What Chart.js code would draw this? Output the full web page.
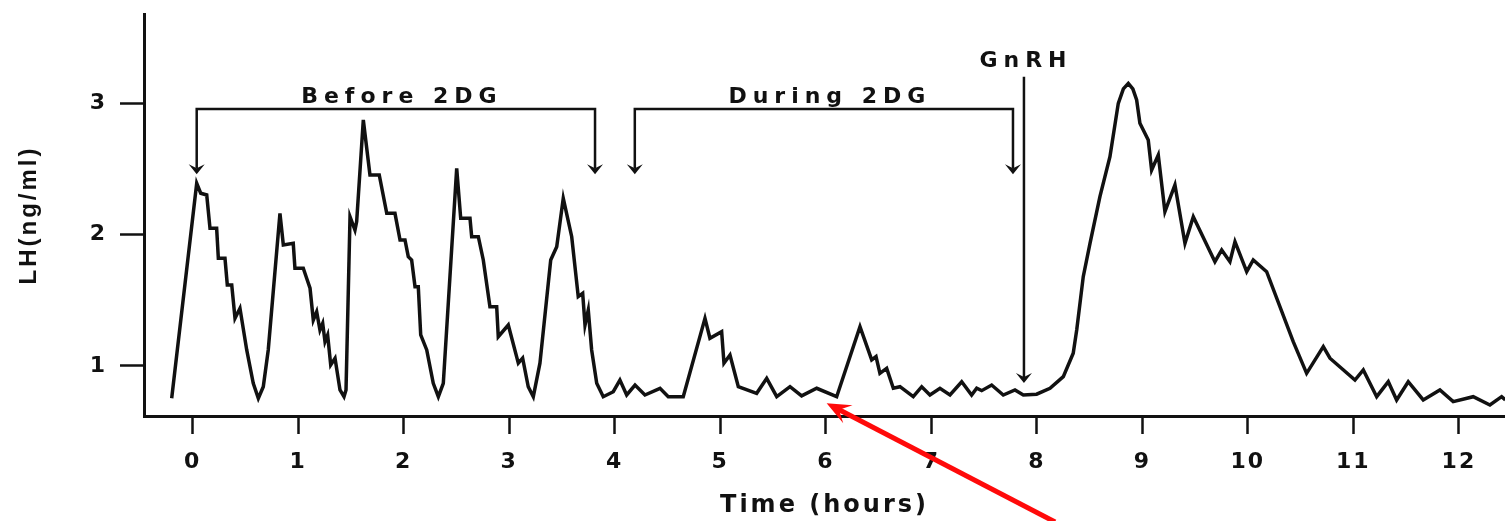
<!DOCTYPE html>
<html>
<head>
<meta charset="utf-8">
<script src="https://cdn.jsdelivr.net/npm/chart.js@4.4.1/dist/chart.umd.min.js"></script>
<style>
  html, body { margin: 0; padding: 0; background: #fff; }
  #wrap { width: 1505px; height: 521px; }
</style>
</head>
<body>
<div id="wrap"><canvas id="lhChart"></canvas></div>
<script>
// LH samples: time (hours) and LH (ng/ml)
const hours = [
  -0.199, 0.038, 0.076, 0.133, 0.164, 0.227, 0.243, 0.306, 0.328, 0.370,
  0.401, 0.448, 0.512, 0.574, 0.622, 0.669, 0.716, 0.827, 0.859, 0.953,
  0.969, 1.048, 1.080, 1.112, 1.143, 1.175, 1.206, 1.232, 1.254, 1.279,
  1.308, 1.349, 1.396, 1.434, 1.453, 1.491, 1.538, 1.554, 1.617, 1.680,
  1.768, 1.839, 1.917, 1.965, 2.012, 2.043, 2.075, 2.107, 2.138, 2.161,
  2.218, 2.280, 2.328, 2.375, 2.502, 2.540, 2.628, 2.644, 2.707, 2.754,
  2.817, 2.881, 2.896, 2.991, 3.086, 3.127, 3.180, 3.228, 3.291, 3.393,
  3.450, 3.512, 3.592, 3.654, 3.696, 3.718, 3.749, 3.781, 3.829, 3.891,
  3.986, 4.049, 4.113, 4.192, 4.286, 4.429, 4.507, 4.649, 4.855, 4.902,
  5.013, 5.035, 5.092, 5.171, 5.345, 5.440, 5.535, 5.661, 5.771, 5.914,
  6.103, 6.324, 6.435, 6.476, 6.513, 6.577, 6.640, 6.703, 6.829, 6.909,
  6.987, 7.082, 7.177, 7.288, 7.382, 7.430, 7.477, 7.572, 7.682, 7.793,
  7.872, 7.998, 8.125, 8.251, 8.345, 8.378, 8.440, 8.504, 8.598, 8.693,
  8.772, 8.820, 8.867, 8.910, 8.946, 8.977, 9.056, 9.088, 9.151, 9.214,
  9.309, 9.404, 9.483, 9.688, 9.752, 9.830, 9.878, 9.989, 10.051, 10.178,
  10.430, 10.557, 10.715, 10.778, 11.015, 11.094, 11.221, 11.331, 11.410, 11.520,
  11.662, 11.820, 11.946, 12.136, 12.294, 12.405, 12.440
];
const lh = [
  0.754, 2.391, 2.315, 2.302, 2.048, 2.048, 1.820, 1.820, 1.617, 1.617,
  1.363, 1.439, 1.122, 0.868, 0.754, 0.842, 1.122, 2.162, 1.921, 1.934,
  1.744, 1.744, 1.668, 1.592, 1.350, 1.413, 1.274, 1.325, 1.185, 1.236,
  1.008, 1.059, 0.817, 0.766, 0.817, 2.137, 2.035, 2.099, 2.873, 2.454,
  2.454, 2.162, 2.162, 1.959, 1.959, 1.832, 1.807, 1.604, 1.604, 1.236,
  1.122, 0.868, 0.766, 0.868, 2.505, 2.124, 2.124, 1.984, 1.984, 1.807,
  1.451, 1.451, 1.223, 1.312, 1.021, 1.059, 0.842, 0.766, 1.021, 1.807,
  1.908, 2.277, 1.984, 1.528, 1.553, 1.312, 1.426, 1.122, 0.868, 0.766,
  0.804, 0.893, 0.779, 0.855, 0.779, 0.830, 0.766, 0.766, 1.363, 1.211,
  1.261, 1.021, 1.084, 0.842, 0.792, 0.906, 0.766, 0.842, 0.772, 0.830,
  0.766, 1.299, 1.046, 1.071, 0.944, 0.982, 0.830, 0.842, 0.766, 0.842,
  0.779, 0.830, 0.779, 0.880, 0.779, 0.830, 0.812, 0.855, 0.779, 0.817,
  0.779, 0.785, 0.830, 0.919, 1.097, 1.274, 1.680, 1.934, 2.289, 2.593,
  3.000, 3.110, 3.152, 3.110, 3.025, 2.848, 2.721, 2.492, 2.606, 2.175,
  2.378, 1.934, 2.137, 1.794, 1.883, 1.794, 1.946, 1.718, 1.807, 1.718,
  1.185, 0.944, 1.147, 1.059, 0.893, 0.970, 0.766, 0.880, 0.741, 0.880,
  0.741, 0.817, 0.728, 0.766, 0.703, 0.766, 0.741
];

const xTickValues = [0, 1, 2, 3, 4, 5, 6, 7, 8, 9, 10, 11, 12];
const yTickValues = [1, 2, 3];

// period brackets (hours) and GnRH marker
const bracketLabels = ['Before 2DG', 'During 2DG'];
const bracketStart = [0.038, 4.19];
const bracketEnd = [3.813, 7.774];
const bracketLevel = 2.957;
const bracketTip = 2.46;
const bracketLabelLevel = 3.0;
const gnrhTime = 7.878;
const gnrhTop = 3.203;
const gnrhTip = 0.87;
const gnrhLabelLevel = 3.279;
// red pointer (time, LH)
const pointerTail = [8.173, -0.188];
const pointerHead = [6.008, 0.716];

const ink = '#111';

function arrowDown(ctx, x, y) {
  ctx.beginPath();
  ctx.moveTo(x, y);
  ctx.lineTo(x - 8, y - 10);
  ctx.lineTo(x, y - 6);
  ctx.lineTo(x + 8, y - 10);
  ctx.closePath();
  ctx.fill();
}

const annotate = {
  id: 'annotate',
  beforeDraw(chart) {
    chart.ctx.letterSpacing = '3px';
  },
  afterDatasetsDraw(chart) {
    const { ctx, scales: { x, y } } = chart;
    ctx.save();
    ctx.letterSpacing = '6px';
    ctx.strokeStyle = ink;
    ctx.fillStyle = ink;
    ctx.lineWidth = 2.5;
    ctx.font = 'bold 22px "DejaVu Sans"';
    ctx.textAlign = 'center';
    ctx.textBaseline = 'alphabetic';

    const yl = y.getPixelForValue(bracketLevel);
    const yt = y.getPixelForValue(bracketTip);
    bracketLabels.forEach((label, i) => {
      const x0 = x.getPixelForValue(bracketStart[i]);
      const x1 = x.getPixelForValue(bracketEnd[i]);
      ctx.beginPath();
      ctx.moveTo(x0, yt - 6);
      ctx.lineTo(x0, yl);
      ctx.lineTo(x1, yl);
      ctx.lineTo(x1, yt - 6);
      ctx.stroke();
      arrowDown(ctx, x0, yt);
      arrowDown(ctx, x1, yt);
      ctx.fillText(label, (x0 + x1) / 2 + 6, y.getPixelForValue(bracketLabelLevel));
    });

    const gx = x.getPixelForValue(gnrhTime);
    const gTip = y.getPixelForValue(gnrhTip);
    ctx.beginPath();
    ctx.moveTo(gx, y.getPixelForValue(gnrhTop));
    ctx.lineTo(gx, gTip - 6);
    ctx.stroke();
    arrowDown(ctx, gx, gTip);
    ctx.fillText('GnRH', gx + 2, y.getPixelForValue(gnrhLabelLevel));
    ctx.restore();
    ctx.letterSpacing = '2px';
  },
  afterDraw(chart) {
    const { ctx, scales: { x, y } } = chart;
    const tx = x.getPixelForValue(pointerTail[0]);
    const ty = y.getPixelForValue(pointerTail[1]);
    const hx = x.getPixelForValue(pointerHead[0]);
    const hy = y.getPixelForValue(pointerHead[1]);
    const a = Math.atan2(hy - ty, hx - tx);
    ctx.save();
    ctx.strokeStyle = '#ff0a0a';
    ctx.fillStyle = '#ff0a0a';
    ctx.lineWidth = 5;
    ctx.beginPath();
    ctx.moveTo(tx, ty);
    ctx.lineTo(hx - 12 * Math.cos(a), hy - 12 * Math.sin(a));
    ctx.stroke();
    ctx.beginPath();
    ctx.moveTo(hx, hy);
    ctx.lineTo(hx - 26 * Math.cos(a - 0.4), hy - 26 * Math.sin(a - 0.4));
    ctx.lineTo(hx - 14 * Math.cos(a), hy - 14 * Math.sin(a));
    ctx.lineTo(hx - 26 * Math.cos(a + 0.4), hy - 26 * Math.sin(a + 0.4));
    ctx.closePath();
    ctx.fill();
    ctx.restore();
    ctx.letterSpacing = '0px';
  }
};

const tickFont = { family: '"DejaVu Sans"', weight: 'bold', size: 22 };

new Chart(document.getElementById('lhChart').getContext('2d'), {
  type: 'line',
  data: {
    datasets: [
      {
        label: 'LH',
        data: hours.map((h, i) => ({ x: h, y: lh[i] })),
        borderColor: ink,
        borderWidth: 3.5,
        pointRadius: 0,
        fill: false,
        tension: 0,
      },
    ],
  },
  options: {
    responsive: true,
    maintainAspectRatio: false,
    animation: false,
    layout: { padding: { top: 14, left: 0, right: 0, bottom: 0 } },
    scales: {
      x: {
        type: 'linear',
        min: -0.4615,
        max: 12.437,
        afterBuildTicks: (scale) => {
          scale.ticks = xTickValues.map((v) => ({ value: v }));
        },
        afterFit: (scale) => {
          scale.height = 105;
          scale.paddingLeft = 0;
          scale.paddingRight = 0;
        },
        grid: {
          drawOnChartArea: false,
          tickLength: 18,
          tickWidth: 2.5,
          tickColor: ink,
          color: ink,
        },
        border: { display: true, color: ink, width: 3 },
        ticks: {
          z: 1,
          color: ink,
          font: tickFont,
          padding: 15,
          maxRotation: 0,
          autoSkip: false,
        },
        title: {
          display: true,
          text: 'Time (hours)',
          color: ink,
          font: { family: '"DejaVu Sans"', weight: 'bold', size: 24 },
          padding: { top: 0, bottom: 1 },
        },
      },
      y: {
        min: 0.619,
        max: 3.68,
        afterBuildTicks: (scale) => {
          scale.ticks = yTickValues.map((v) => ({ value: v }));
        },
        afterFit: (scale) => {
          scale.width = 144;
          scale.paddingTop = 0;
          scale.paddingBottom = 0;
        },
        grid: {
          drawOnChartArea: false,
          tickLength: 24,
          tickWidth: 2.5,
          tickColor: ink,
          color: ink,
        },
        border: { display: true, color: ink, width: 3 },
        ticks: {
          z: 1,
          color: ink,
          font: tickFont,
          padding: 13,
        },
        title: {
          display: true,
          text: 'LH(ng/ml)',
          color: ink,
          font: { family: '"Liberation Sans"', weight: 'bold', size: 24 },
          padding: { top: 15, bottom: 0 },
        },
      },
    },
    plugins: {
      legend: { display: false },
      tooltip: { enabled: false },
    },
  },
  plugins: [annotate],
});
</script>
</body>
</html>
